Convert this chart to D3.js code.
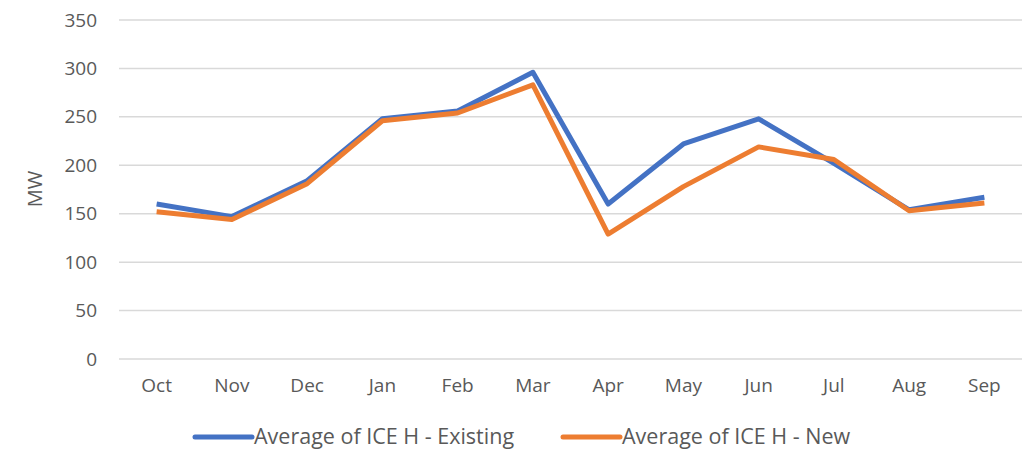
<!DOCTYPE html>
<html>
<head>
<meta charset="utf-8">
<script src="https://cdn.jsdelivr.net/npm/d3@7"></script>
<style>
  body { margin: 0; background: #fff; }
  svg text { font-family: "Open Sans", "Noto Sans", sans-serif; fill: #595959; }
</style>
</head>
<body>
<div id="chart"></div>
<script>
// monthly averages, MW
var months = ["Oct","Nov","Dec","Jan","Feb","Mar","Apr","May","Jun","Jul","Aug","Sep"];
var existing = [160, 147, 184, 248, 256, 296, 160, 222, 248, 202, 154, 167];
var newVals = [152, 144, 181, 246, 254, 283, 129, 178, 219, 206, 153, 161];
var yTicks = [0, 50, 100, 150, 200, 250, 300, 350];
var seriesNames = ["Average of ICE H - Existing", "Average of ICE H - New"];
var colours = ["#4472C4", "#ED7D31"];

var W = 1026, H = 451;
var margin = {top: 20, right: 4, bottom: 92, left: 119};
var w = W - margin.left - margin.right;
var h = H - margin.top - margin.bottom;

var svg = d3.select("#chart").append("svg")
  .attr("width", W)
  .attr("height", H);

var g = svg.append("g")
  .attr("transform", "translate(" + margin.left + "," + margin.top + ")");

var xScale = d3.scaleBand().domain(months).range([0, w]);
var yScale = d3.scaleLinear().domain([0, 350]).range([h, 0]);

// gridlines
g.selectAll(".grid")
  .data(yTicks)
  .enter()
  .append("line")
  .attr("x1", 0)
  .attr("x2", w)
  .attr("y1", function(d) { return yScale(d); })
  .attr("y2", function(d) { return yScale(d); })
  .attr("stroke", "#d9d9d9")
  .attr("stroke-width", 1.5);

var yAxis = d3.axisLeft(yScale).tickValues(yTicks).tickSize(0).tickPadding(22);
var yg = g.append("g").call(yAxis);
yg.select(".domain").remove();
yg.selectAll("text").style("font-size", "19px").style("fill", "#595959");

var xAxis = d3.axisBottom(xScale).tickSize(0).tickPadding(20);
var xg = g.append("g").attr("transform", "translate(0," + h + ")").call(xAxis);
xg.select(".domain").remove();
xg.selectAll("text").style("font-size", "19px").style("fill", "#595959");

// y title
svg.append("text")
  .attr("transform", "translate(42," + 189 + ") rotate(-90)")
  .attr("text-anchor", "middle")
  .style("font-size", "20px")
  .text("MW");

var line = d3.line()
  .x(function(d, i) { return xScale(months[i]) + xScale.bandwidth() / 2; })
  .y(function(d) { return yScale(d); });

[existing, newVals].forEach(function(s, i) {
  g.append("path")
    .datum(s)
    .attr("d", line)
    .attr("fill", "none")
    .attr("stroke", colours[i])
    .attr("stroke-width", 5)
    .attr("stroke-linejoin", "round");
});

// legend
var legendX = [195, 563];
var leg = svg.selectAll(".legend")
  .data(seriesNames)
  .enter()
  .append("g")
  .attr("transform", function(d, i) { return "translate(" + legendX[i] + ",437)"; });

leg.append("line")
  .attr("x1", 0).attr("x2", 57)
  .attr("stroke", function(d, i) { return colours[i]; })
  .attr("stroke-width", 5)
  .attr("stroke-linecap", "round");

leg.append("text")
  .attr("x", 59)
  .attr("y", 7)
  .style("font-family", "'Liberation Sans Narrow', 'Open Sans', sans-serif")
  .style("font-size", "21.5px")
  .text(function(d) { return d; });
</script>
</body>
</html>
